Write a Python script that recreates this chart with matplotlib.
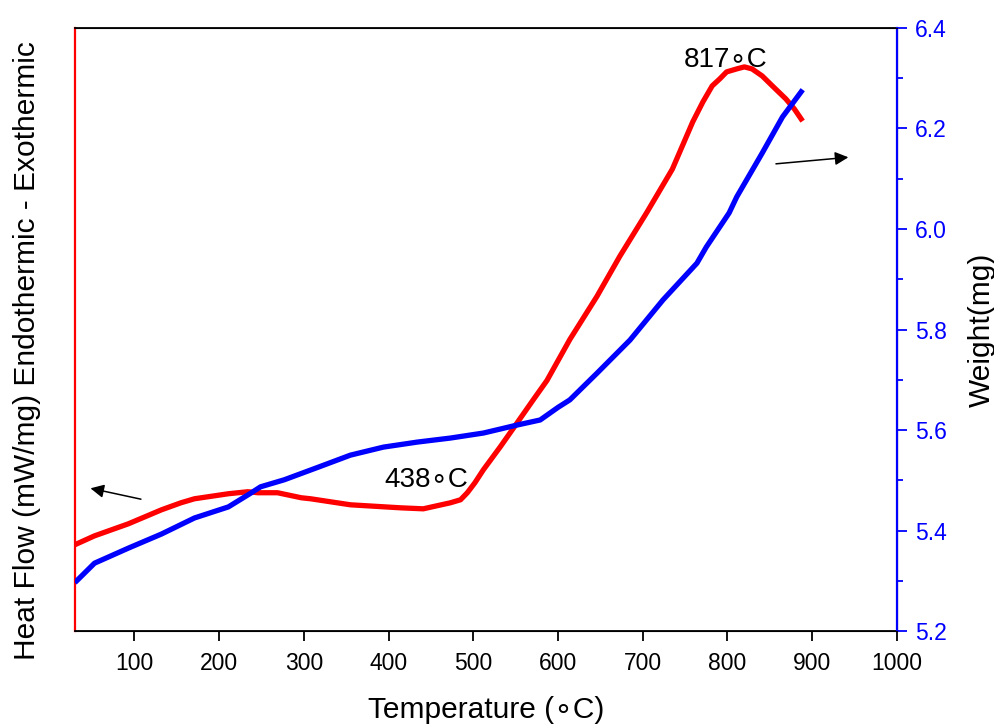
import matplotlib

matplotlib.use("Agg")

import matplotlib.pyplot as plt
from matplotlib.ticker import MultipleLocator

plt.rcParams["font.family"] = ["Liberation Sans", "DejaVu Sans"]

# heat flow (arbitrary units, left axis has no scale)
hf_temp = [32, 53, 93, 132, 155, 171, 211, 234, 246, 269, 297, 308, 355, 414,
           441, 473, 485, 493, 502, 512, 532, 552, 571, 587, 614, 646, 673,
           705, 735, 759, 771, 782, 791, 799, 811, 820, 829, 841, 853, 869,
           879, 887]
hf_value = [0.867, 0.947, 1.067, 1.206, 1.276, 1.316, 1.366, 1.386, 1.376,
            1.376, 1.326, 1.316, 1.256, 1.226, 1.216, 1.276, 1.306, 1.376,
            1.476, 1.605, 1.834, 2.074, 2.303, 2.493, 2.901, 3.330, 3.729,
            4.167, 4.596, 5.065, 5.264, 5.424, 5.494, 5.563, 5.593, 5.613,
            5.593, 5.523, 5.424, 5.294, 5.194, 5.095]

# weight (mg)
w_temp = [32, 53, 93, 132, 171, 211, 238, 249, 277, 317, 355, 394, 434, 473,
          512, 552, 579, 600, 614, 646, 685, 724, 764, 775, 802, 811, 841, 865,
          887]
w_value = [5.300, 5.335, 5.365, 5.393, 5.425, 5.447, 5.475, 5.487, 5.501,
           5.526, 5.550, 5.566, 5.576, 5.584, 5.594, 5.610, 5.620, 5.645,
           5.660, 5.713, 5.779, 5.859, 5.932, 5.964, 6.032, 6.064, 6.151,
           6.223, 6.273]

fig = plt.figure(figsize=(9.95, 7.27), dpi=100)
ax = fig.add_axes([0.0754, 0.132, 0.826, 0.8295])
ax2 = ax.twinx()

ax.plot(hf_temp, hf_value, color="red", lw=3.8, solid_joinstyle="round")
ax2.plot(w_temp, w_value, color="blue", lw=3.8, solid_joinstyle="round")

ax.set_xlim(30, 1000)
ax.set_ylim(0, 6)
ax2.set_ylim(5.2, 6.4)

ax.set_xticks(range(100, 1001, 100))
ax.tick_params(axis="x", direction="out", length=7, width=1.3, labelsize=16.5,
               pad=8)
ax.tick_params(axis="y", left=False, labelleft=False)
ax.spines["left"].set_color("red")
ax.spines["left"].set_linewidth(1.6)
for s in ("top", "bottom"):
    ax.spines[s].set_linewidth(1.3)
ax2.spines["right"].set_color("blue")
ax2.spines["right"].set_linewidth(1.6)
ax2.spines["left"].set_visible(False)

ax2.yaxis.set_major_locator(MultipleLocator(0.2))
ax2.yaxis.set_minor_locator(MultipleLocator(0.1))
ax2.yaxis.set_major_formatter(lambda v, p: f"{v:.1f}")
ax2.tick_params(axis="y", which="major", direction="out", length=7, width=1.3,
                colors="blue", labelsize=16.5, pad=6)
ax2.tick_params(axis="y", which="minor", direction="out", length=4, width=1.3,
                colors="blue")

ax.set_xlabel("Temperature (\u2218C)", fontsize=21.5, labelpad=15)
ax2.set_ylabel("Weight(mg)", fontsize=21.5, labelpad=15, color="black")
fig.text(0.027, 0.518, "Heat Flow (mW/mg) Endothermic - Exothermic",
         rotation=90, fontsize=21.5, ha="center", va="center")

ax.text(798, 5.613, "817\u2218C", fontsize=20, ha="center", va="baseline")
ax.text(445, 1.436, "438\u2218C", fontsize=20, ha="center", va="baseline")

ax.annotate("", xy=(45, 1.426), xytext=(111, 1.306),
            arrowprops=dict(arrowstyle="-|>", color="black", lw=1.1,
                            mutation_scale=20))
ax.annotate("", xy=(946, 4.716), xytext=(854, 4.646),
            arrowprops=dict(arrowstyle="-|>", color="black", lw=1.1,
                            mutation_scale=20))

fig.savefig("out.png", dpi=100)
